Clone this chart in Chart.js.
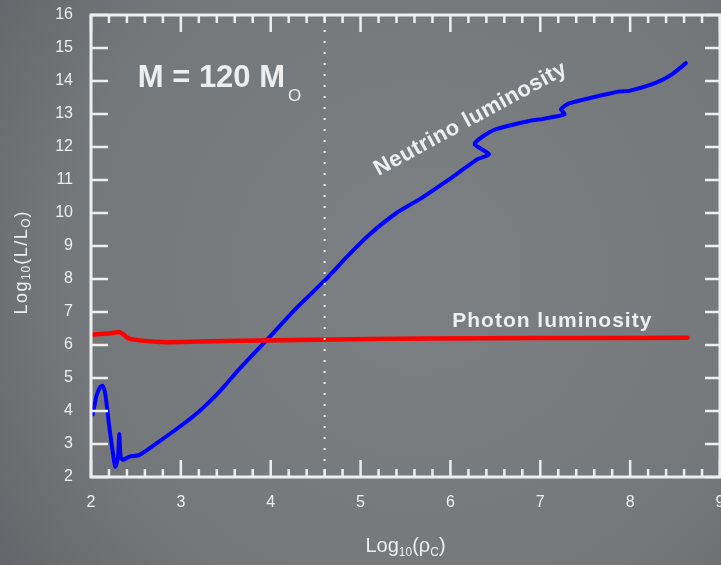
<!DOCTYPE html>
<html>
<head>
<meta charset="utf-8">
<script src="https://cdn.jsdelivr.net/npm/chart.js@4"></script>
<style>
  html, body { margin: 0; padding: 0; background: #676b6f; }
  canvas { display: block; }
</style>
</head>
<body>
<canvas id="c" width="721" height="565"></canvas>
<script>
// Central density (log10 rho_c) vs luminosity (log10 L/Lsun) for a 120 Msun star
const neutrinoX = [2.02, 2.06, 2.10, 2.13, 2.16, 2.20, 2.24, 2.27, 2.30, 2.315, 2.33, 2.36, 2.43, 2.54,
                   2.75, 2.99, 3.20, 3.36, 3.50, 3.66, 3.77, 3.96, 4.29, 4.61, 4.85, 5.10, 5.40, 5.66,
                   5.88, 6.10, 6.30, 6.43, 6.27, 6.34, 6.51, 6.88, 7.05, 7.27, 7.23, 7.32, 7.58, 7.88,
                   7.99, 8.29, 8.47, 8.62];
const neutrinoY = [3.90, 4.45, 4.72, 4.76, 4.50, 3.60, 2.80, 2.31, 2.60, 3.30, 2.60, 2.52, 2.62, 2.67,
                   3.06, 3.53, 3.98, 4.39, 4.80, 5.30, 5.62, 6.16, 7.13, 7.98, 8.68, 9.35, 10.00, 10.42,
                   10.82, 11.24, 11.63, 11.78, 12.08, 12.28, 12.54, 12.79, 12.86, 12.99, 13.14, 13.32, 13.50, 13.68,
                   13.70, 13.95, 14.21, 14.54];

const photonX = [2.02, 2.20, 2.32, 2.36, 2.42, 2.54, 2.77, 3.00, 3.66, 4.50, 5.77, 7.00, 8.64];
const photonY = [6.32, 6.35, 6.39, 6.32, 6.20, 6.14, 6.09, 6.09, 6.13, 6.16, 6.20, 6.21, 6.22];

const xTicks = [2, 3, 4, 5, 6, 7, 8, 9];
const yTicks = [2, 3, 4, 5, 6, 7, 8, 9, 10, 11, 12, 13, 14, 15, 16];
const xMinorStep = 0.2;
const markerDensity = 4.6;

const INK = '#eeeeee';
const FONT = '"Liberation Sans", Arial, Helvetica, sans-serif';

const toPoints = (xs, ys) => xs.map((v, i) => ({ x: v, y: ys[i] }));

// Draw a run of text pieces (with optional subscripts) starting at x, baseline y.
function richText(ctx, parts, x, y, align) {
  let total = 0;
  const widths = parts.map(p => {
    ctx.font = p.font;
    ctx.letterSpacing = (p.spacing || 0) + 'px';
    const w = ctx.measureText(p.text).width + (p.gap || 0);
    total += w;
    return w;
  });
  let cx = align === 'center' ? x - total / 2 : x;
  parts.forEach((p, i) => {
    ctx.font = p.font;
    ctx.letterSpacing = (p.spacing || 0) + 'px';
    ctx.fillText(p.text, cx + (p.gap || 0), y + (p.dy || 0));
    cx += widths[i];
  });
  ctx.letterSpacing = '0px';
}

const boardPlugin = {
  id: 'board',
  beforeDraw(chart) {
    const { ctx, width, height } = chart;
    ctx.save();
    const g = ctx.createRadialGradient(420, 270, 40, 420, 270, 560);
    g.addColorStop(0, '#7b7f82');
    g.addColorStop(0.6, '#74787b');
    g.addColorStop(1, '#5e6266');
    ctx.fillStyle = g;
    ctx.fillRect(0, 0, width, height);
    ctx.restore();
  },
  afterDatasetsDraw(chart) {
    const { ctx, chartArea: a, scales: { x, y } } = chart;
    ctx.save();
    ctx.strokeStyle = INK;
    ctx.lineWidth = 3;
    ctx.strokeRect(a.left, a.top, a.right - a.left, a.bottom - a.top);

    ctx.lineWidth = 2.5;
    ctx.beginPath();
    const n = Math.round((x.max - x.min) / xMinorStep);
    for (let i = 0; i <= n; i++) {
      const v = x.min + i * xMinorStep;
      const px = x.getPixelForValue(v);
      const len = i % 5 === 0 ? 17 : 8;
      ctx.moveTo(px, a.bottom); ctx.lineTo(px, a.bottom - len);
      ctx.moveTo(px, a.top); ctx.lineTo(px, a.top + len);
    }
    yTicks.forEach(v => {
      const py = y.getPixelForValue(v);
      ctx.moveTo(a.left, py); ctx.lineTo(a.left + 17, py);
      ctx.moveTo(a.right, py); ctx.lineTo(a.right - 15, py);
    });
    ctx.stroke();

    // dotted reference line
    const mx = x.getPixelForValue(markerDensity);
    ctx.lineWidth = 2;
    ctx.setLineDash([2, 9]);
    ctx.beginPath();
    ctx.moveTo(mx, a.top + 4);
    ctx.lineTo(mx, a.bottom);
    ctx.stroke();
    ctx.restore();
  },
  afterDraw(chart) {
    const { ctx, chartArea: a, scales: { x, y } } = chart;
    ctx.save();
    ctx.fillStyle = INK;
    ctx.textBaseline = 'alphabetic';
    ctx.textAlign = 'left';

    // mass label
    richText(ctx, [
      { text: 'M = 120 M', font: 'bold 31px ' + FONT },
      { text: 'O', font: '17px ' + FONT, dy: 14, gap: 3 }
    ], x.getPixelForValue(2.52), y.getPixelForValue(13.81), 'left');

    // curve labels
    richText(ctx, [{ text: 'Photon luminosity', font: 'bold 21px ' + FONT, spacing: 1 }],
      x.getPixelForValue(6.02), y.getPixelForValue(6.55), 'left');

    ctx.save();
    ctx.translate(x.getPixelForValue(5.2), y.getPixelForValue(11.12));
    ctx.rotate(-28.5 * Math.PI / 180);
    richText(ctx, [{ text: 'Neutrino luminosity', font: 'bold 22px ' + FONT, spacing: 0.5 }], 0, 0, 'left');
    ctx.restore();

    // axis titles
    const cxp = (a.left + a.right) / 2;
    richText(ctx, [
      { text: 'Log', font: '20px ' + FONT },
      { text: '10', font: '12px ' + FONT, dy: 4 },
      { text: '(ρ', font: '20px ' + FONT },
      { text: 'C', font: '12px ' + FONT, dy: 4 },
      { text: ')', font: '20px ' + FONT }
    ], cxp, 552, 'center');

    ctx.save();
    ctx.translate(27, 263);
    ctx.rotate(-Math.PI / 2);
    richText(ctx, [
      { text: 'Log', font: '18px ' + FONT, spacing: 1.5 },
      { text: '10', font: '12px ' + FONT, dy: 3, spacing: 1 },
      { text: '(L/L', font: '18px ' + FONT, spacing: 1.5 },
      { text: 'O', font: '12px ' + FONT, dy: 3 },
      { text: ')', font: '18px ' + FONT, gap: 1 }
    ], 0, 0, 'center');
    ctx.restore();

    ctx.restore();
  }
};

new Chart(document.getElementById('c'), {
  type: 'scatter',
  data: {
    datasets: [
      {
        label: 'Photon luminosity',
        data: toPoints(photonX, photonY),
        showLine: true,
        borderColor: '#ff0000',
        borderWidth: 4.5,
        pointRadius: 0,
        tension: 0.2,
        borderCapStyle: 'round',
        borderJoinStyle: 'round'
      },
      {
        label: 'Neutrino luminosity',
        data: toPoints(neutrinoX, neutrinoY),
        showLine: true,
        borderColor: '#0000ff',
        borderWidth: 4,
        pointRadius: 0,
        tension: 0.2,
        borderCapStyle: 'round',
        borderJoinStyle: 'round'
      }
    ]
  },
  options: {
    responsive: false,
    devicePixelRatio: 1,
    animation: false,
    layout: { padding: { top: 15, right: 1, left: 0, bottom: 0 } },
    plugins: { legend: { display: false }, tooltip: { enabled: false } },
    scales: {
      x: {
        type: 'linear', min: 2, max: 9,
        afterBuildTicks: s => { s.ticks = xTicks.map(v => ({ value: v })); },
        grid: { display: false, drawTicks: false },
        border: { display: false },
        ticks: { color: INK, font: { family: FONT, size: 16 }, padding: 16, maxRotation: 0, autoSkip: false },
        afterFit: s => { s.height = 88; s.paddingLeft = 0; s.paddingRight = 0; }
      },
      y: {
        type: 'linear', min: 2, max: 16,
        afterBuildTicks: s => { s.ticks = yTicks.map(v => ({ value: v })); },
        grid: { display: false, drawTicks: false },
        border: { display: false },
        ticks: { color: INK, font: { family: FONT, size: 16 }, padding: 18, autoSkip: false },
        afterFit: s => { s.width = 91; s.paddingTop = 0; s.paddingBottom = 0; }
      }
    }
  },
  plugins: [boardPlugin]
});
</script>
</body>
</html>
